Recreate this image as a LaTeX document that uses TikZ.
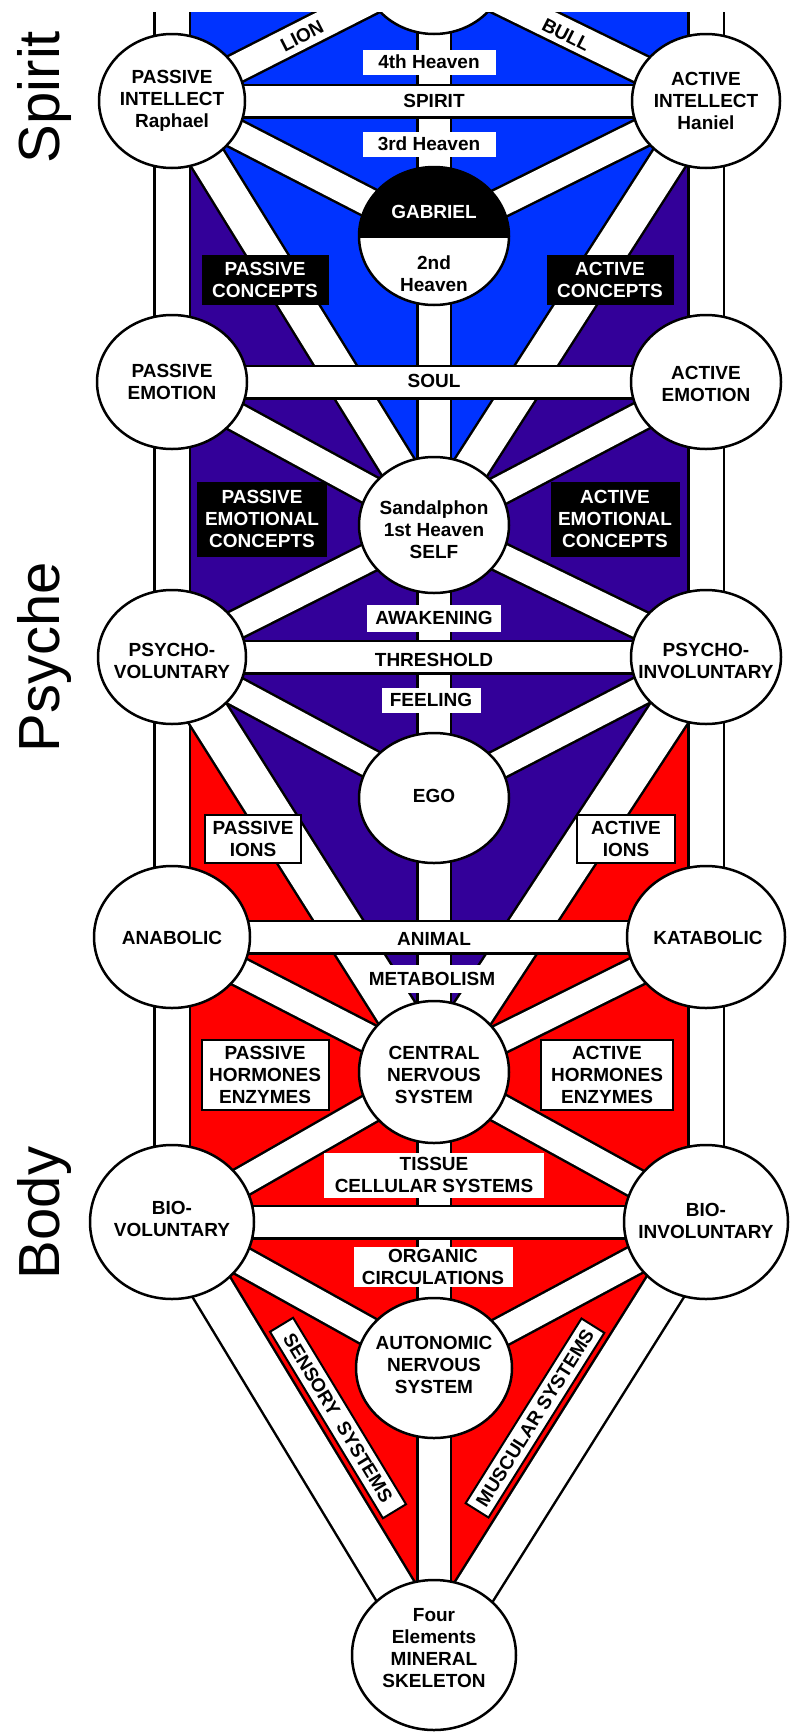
\documentclass[tikz,border=0pt]{standalone}
\usepackage{fontspec}
\setmainfont{Liberation Sans}
\usetikzlibrary{shapes.geometric}
\definecolor{spiritblue}{RGB}{0,51,255}
\definecolor{psychepurple}{RGB}{51,0,153}
\definecolor{bodyred}{RGB}{255,0,0}
\pgfdeclarelayer{back}
\pgfsetlayers{back,main}

\begin{document}
\begin{tikzpicture}[x=1pt,y=-1pt,
  ring/.style={ellipse,draw=black,line width=2.5pt,fill=white,inner sep=0pt},
  lbl/.style={font=\bfseries\fontsize{19}{22}\selectfont,align=center,inner sep=0pt},
  tag/.style={lbl,fill=white},
  darktag/.style={lbl,fill=black,text=white},
  boxtag/.style={lbl,fill=white,draw=black,line width=2pt},
  channel/.style={draw=black,line width=2.5pt,double=white,double distance=27pt},
  widechannel/.style={channel,double distance=40pt},
  pillar/.style={channel,double distance=33pt},
  crossbar/.style={channel,double distance=30pt},
  realm/.style={font=\fontsize{58}{58}\selectfont,rotate=90,inner sep=0pt}]
\useasboundingbox (0,0) rectangle (793,1732);
% Drawing spheres
\node[ring,minimum width=144pt,minimum height=132pt] (top) at (434,-32) {};
\fill[white] (0,-120) rectangle (793,12);
% Row 1: intellect
\node[ring,minimum width=146pt,minimum height=134pt] (pi) at (172,101) {};
\node[ring,minimum width=148pt,minimum height=134pt] (ai) at (706,101) {};
\node[ring,minimum width=150pt,minimum height=138pt,
  path picture={\fill[black] (path picture bounding box.north west) rectangle ([yshift=-2pt]path picture bounding box.east);}] (g) at (434,236) {};
% Row 2: emotion
\node[ring,minimum width=150pt,minimum height=134pt] (pe) at (172,382) {};
\node[ring,minimum width=150pt,minimum height=134pt] (ae) at (706,382) {};
\node[ring,minimum width=150pt,minimum height=136pt] (s) at (434,525) {};
% Row 3: psycho
\node[ring,minimum width=148pt,minimum height=134pt] (pv) at (172,657) {};
\node[ring,minimum width=150pt,minimum height=134pt] (piv) at (706,657) {};
\node[ring,minimum width=150pt,minimum height=130pt] (e) at (434,798) {};
% Row 4: metabolism
\node[ring,minimum width=156pt,minimum height=142pt] (an) at (172,937) {};
\node[ring,minimum width=158pt,minimum height=142pt] (ka) at (706,937) {};
\node[ring,minimum width=150pt,minimum height=142pt] (c) at (434,1072) {};
% Row 5: bio
\node[ring,minimum width=164pt,minimum height=154pt] (bv) at (172,1222) {};
\node[ring,minimum width=164pt,minimum height=154pt] (bi) at (706,1222) {};
\node[ring,minimum width=156pt,minimum height=140pt] (au) at (434,1368) {};
\node[ring,minimum width=164pt,minimum height=150pt] (f) at (434,1655) {};
% Done with spheres; drawing fills and channels
\begin{pgfonlayer}{back}
\coordinate (ltop) at (172,0);
\coordinate (rtop) at (706,0);
\fill[bodyred] (pv.center) -- (piv.center) -- (bi.center) -- (f.center) -- (bv.center) -- cycle;
\fill[psychepurple] (pi.center) -- (ai.center) -- (piv.center) -- (c.center) -- (pv.center) -- cycle;
\fill[spiritblue] (ltop) -- (rtop) -- (ai.center) -- (s.center) -- (pi.center) -- cycle;
% pillars
\draw[pillar] (ltop) -- (bv.center);
\draw[pillar] (rtop) -- (bi.center);
\draw[channel,double distance=31pt] (top.center) -- (f.center);
% spirit
\draw[channel] (pi.center) -- (top.center);
\draw[channel] (ai.center) -- (top.center);
\draw[channel] (pi.center) -- (g.center);
\draw[channel] (ai.center) -- (g.center);
\draw[channel,double distance=34pt] (pi.center) -- (s.center);
\draw[channel,double distance=34pt] (ai.center) -- (s.center);
% psyche
\draw[channel] (pe.center) -- (s.center);
\draw[channel] (ae.center) -- (s.center);
\draw[channel] (s.center) -- (pv.center);
\draw[channel] (s.center) -- (piv.center);
\draw[channel] (pv.center) -- (e.center);
\draw[channel] (piv.center) -- (e.center);
\draw[widechannel] (pv.center) -- (c.center);
\draw[widechannel] (piv.center) -- (c.center);
% body
\draw[channel] (an.center) -- (c.center);
\draw[channel] (ka.center) -- (c.center);
\draw[channel] (c.center) -- (bv.center);
\draw[channel] (c.center) -- (bi.center);
\draw[channel] (bv.center) -- (au.center);
\draw[channel] (bi.center) -- (au.center);
\draw[widechannel] (bv.center) -- (f.center);
\draw[widechannel] (bi.center) -- (f.center);
% crossbars
\draw[crossbar] (pi.center) -- (ai.center);
\draw[crossbar] (pe.center) -- (ae.center);
\draw[crossbar] (pv.center) -- (piv.center);
\draw[crossbar] (an.center) -- (ka.center);
\draw[crossbar] (bv.center) -- (bi.center);
\end{pgfonlayer}
% Done with channels; drawing labels
\node[realm] (spirit) at (45,97) {Spirit};
\node[realm] (psyche) at (45,657) {Psyche};
\node[realm] (body) at (45,1213) {Body};
\node[lbl,rotate=27] (lion) at (302,36) {LION};
\node[lbl,rotate=-27] (bull) at (566,35) {BULL};
\node[lbl] (pi-t) at (pi) {PASSIVE\\INTELLECT\\Raphael};
\node[lbl] (ai-t) at (ai) {ACTIVE\\INTELLECT\\Haniel};
\node[tag,minimum width=133pt,minimum height=25pt] (heaven4) at (429,62) {4th Heaven};
\node[lbl] (spirit-t) at (434,101) {SPIRIT};
\node[tag,minimum width=133pt,minimum height=25pt] (heaven3) at (429,144) {3rd Heaven};
\node[lbl,text=white] (g-t) at (434,212) {GABRIEL};
\node[lbl] (g-b) at (434,274) {2nd\\Heaven};
\node[darktag,minimum width=127pt,minimum height=50pt] (pcon) at (265,280) {PASSIVE\\CONCEPTS};
\node[darktag,minimum width=127pt,minimum height=50pt] (acon) at (610,280) {ACTIVE\\CONCEPTS};
\node[lbl] (pe-t) at (pe) {PASSIVE\\EMOTION};
\node[lbl] (ae-t) at (706,384) {ACTIVE\\EMOTION};
\node[lbl] (soul-t) at (434,381) {SOUL};
\node[lbl] (s-t) at (434,530) {Sandalphon\\1st Heaven\\SELF};
\node[darktag,minimum width=130pt,minimum height=75pt] (pecon) at (262,519) {PASSIVE\\EMOTIONAL\\CONCEPTS};
\node[darktag,minimum width=129pt,minimum height=75pt] (aecon) at (615,519) {ACTIVE\\EMOTIONAL\\CONCEPTS};
\node[tag,minimum width=134pt,minimum height=27pt] (awake) at (434,618) {AWAKENING};
\node[lbl] (thresh-t) at (434,660) {THRESHOLD};
\node[tag,minimum width=99pt,minimum height=25pt] (feel) at (431,700) {FEELING};
\node[lbl] (pv-t) at (172,661) {PSYCHO-\\VOLUNTARY};
\node[lbl] (piv-t) at (706,661) {PSYCHO-\\INVOLUNTARY};
\node[lbl] (e-t) at (434,796) {EGO};
\node[boxtag,minimum width=96pt,minimum height=48pt] (pion) at (253,839) {PASSIVE\\IONS};
\node[boxtag,minimum width=98pt,minimum height=48pt] (aion) at (626,839) {ACTIVE\\IONS};
\node[lbl] (an-t) at (172,938) {ANABOLIC};
\node[lbl] (ka-t) at (708,938) {KATABOLIC};
\node[lbl] (animal-t) at (434,939) {ANIMAL};
\node[tag,minimum width=137pt,minimum height=28pt] (metab) at (432,979) {METABOLISM};
\node[lbl] (c-t) at (434,1075) {CENTRAL\\NERVOUS\\SYSTEM};
\node[boxtag,minimum width=127pt,minimum height=70pt] (phorm) at (265,1075) {PASSIVE\\HORMONES\\ENZYMES};
\node[boxtag,minimum width=132pt,minimum height=70pt] (ahorm) at (607,1075) {ACTIVE\\HORMONES\\ENZYMES};
\node[tag,minimum width=220pt,minimum height=45pt] (tissue) at (434,1175) {TISSUE\\CELLULAR SYSTEMS};
\node[lbl] (bv-t) at (172,1219) {BIO-\\VOLUNTARY};
\node[lbl] (bi-t) at (706,1221) {BIO-\\INVOLUNTARY};
\node[tag,minimum width=159pt,minimum height=40pt] (organic) at (433,1267) {ORGANIC\\CIRCULATIONS};
\node[lbl] (au-t) at (434,1365) {AUTONOMIC\\NERVOUS\\SYSTEM};
\node[boxtag,minimum width=218pt,minimum height=27pt,rotate=-58.8] (sensory) at (338,1418) {SENSORY\ \ SYSTEMS};
\node[boxtag,minimum width=218pt,minimum height=27pt,rotate=57.9] (muscular) at (535,1418) {MUSCULAR SYSTEMS};
\node[lbl] (f-t) at (434,1648) {Four\\Elements\\MINERAL\\SKELETON};
% Done with labels
\end{tikzpicture}
\end{document}
